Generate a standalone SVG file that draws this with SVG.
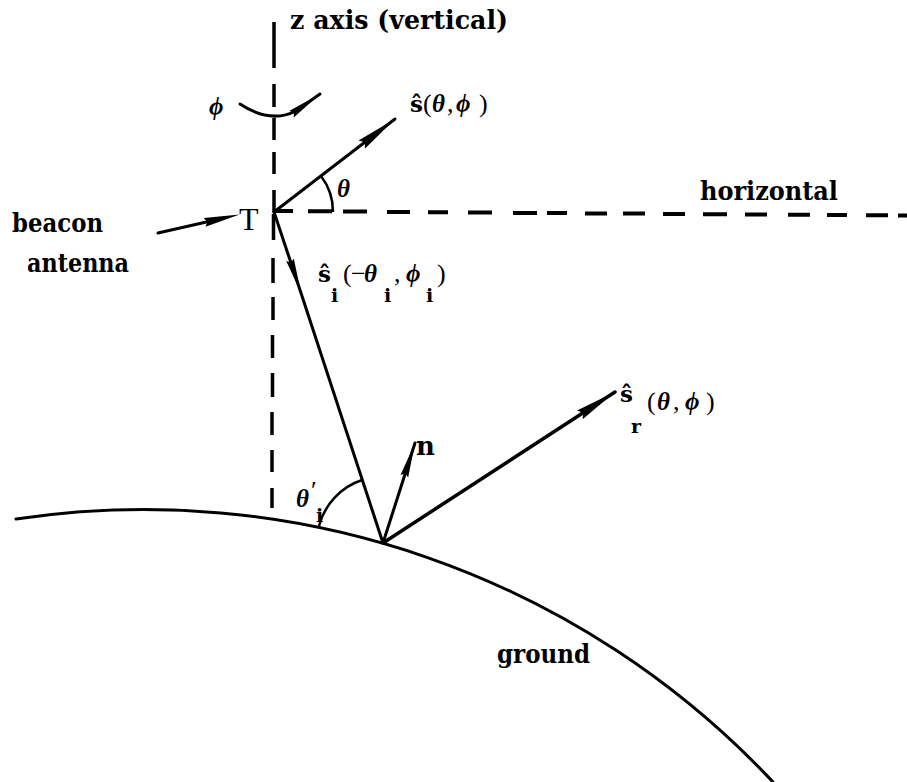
<svg xmlns="http://www.w3.org/2000/svg" width="907" height="782" viewBox="0 0 907 782">
<style>
  .bg { fill: #ffffff; }
  .ln { fill: none; stroke: #000; stroke-width: 3; stroke-linecap: round; stroke-linejoin: round; }
  .dash { fill: none; stroke: #000; stroke-width: 4; stroke-linecap: butt; }
  .arc { fill: none; stroke: #000; stroke-width: 2.5; }
  .tw { font-family: "DejaVu Serif", "Liberation Serif", serif; font-weight: bold; font-size: 26px; fill: #000; }
  .mb { font-family: "DejaVu Serif", "Liberation Serif", serif; font-weight: bold; font-size: 23px; fill: #000; }
  .gr { font-family: "Liberation Serif", "DejaVu Serif", serif; font-style: italic; font-weight: bold; font-size: 25px; fill: #000; }
  .pr { font-family: "Liberation Serif", "DejaVu Serif", serif; font-style: normal; font-weight: normal; font-size: 26px; fill: #000; }
  .sub { font-family: "DejaVu Serif", "Liberation Serif", serif; font-style: normal; font-weight: bold; font-size: 19px; fill: #000; }
  .tt { font-family: "Liberation Serif", "DejaVu Serif", serif; font-size: 32px; fill: #000; }
</style>
<defs>
  <marker id="arrL" viewBox="0 0 42 12" refX="42" refY="6" markerWidth="42" markerHeight="12" markerUnits="userSpaceOnUse" orient="auto">
    <path d="M0,0.8 L42,6 L0,11.2 L4,6 Z" fill="#000"/>
  </marker>
  <marker id="arrS" viewBox="0 0 35 9" refX="35" refY="4.5" markerWidth="35" markerHeight="9" markerUnits="userSpaceOnUse" orient="auto">
    <path d="M0,0.5 L35,4.5 L0,8.5 L3,4.5 Z" fill="#000"/>
  </marker>
  <marker id="arrM" viewBox="0 0 36 10" refX="20" refY="5" markerWidth="36" markerHeight="10" markerUnits="userSpaceOnUse" orient="auto">
    <path d="M0,0.5 L36,5 L0,9.5 L3,5 Z" fill="#000"/>
  </marker>
</defs>
<rect class="bg" x="0" y="0" width="907" height="782"/>

<g id="z-axis">
  <path class="dash" style="stroke-width:3.5" d="M274,22 V68 M274,84 V107 M274,118 V140 M274,152 V174 M274,190 V212 M273.5,214 V240 M273,258 V283 M273,297 V320 M272.5,335 V358 M272.5,373 V397 M272,412 V435 M272,450 V472 M272,488 V508"/>
  <text class="tw" x="290" y="29" font-size="24" textLength="218" lengthAdjust="spacingAndGlyphs">z axis (vertical)</text>
</g>

<g id="horizontal">
  <path class="dash" d="M276,211 H293 M308,211.2 H332 M343,211.5 H367 M387,212 H410 M428,212.3 H448 M468,212.6 H492 M513,212.9 H537 M547,213.1 H567 M585,213.4 H607 M623,213.6 H645 M663,213.9 H685 M703,214.2 H727 M745,214.4 H767 M788,214.7 H810 M827,215 H847 M866,215.2 H888 M898,215.4 H907"/>
  <text class="tw" x="700" y="200" textLength="138" lengthAdjust="spacingAndGlyphs">horizontal</text>
</g>

<g id="ground">
  <path class="ln" d="M16,519 A863,863 0 0,1 773,782"/>
  <text class="tw" x="497" y="663" textLength="93" lengthAdjust="spacingAndGlyphs">ground</text>
</g>

<g id="beacon-antenna">
  <text class="tw" x="12" y="232" textLength="91" lengthAdjust="spacingAndGlyphs">beacon</text>
  <text class="tw" x="27" y="272" textLength="102" lengthAdjust="spacingAndGlyphs">antenna</text>
</g>

<g id="T">
  <text class="tt" x="239" y="230">T</text>
</g>

<g id="connectors">
  <path class="ln" d="M158,233 L224,218" marker-end="url(#arrM)"/>
  <path class="ln" d="M274,212 L395,119" marker-end="url(#arrL)"/>
  <path class="ln" d="M274,212 L301,293 L383,543" marker-mid="url(#arrS)"/>
  <path class="ln" style="stroke-width:3.5" d="M383,543 L615,392" marker-end="url(#arrL)"/>
  <path class="ln" d="M383,543 L415,443" marker-end="url(#arrS)"/>
  <path class="ln" d="M240,104 Q270,124 296,111 L320,94" marker-end="url(#arrS)"/>
  <path class="arc" d="M333,212 A59,59 0 0,0 321,176"/>
  <path class="arc" d="M319,526 A66,66 0 0,1 362,480"/>
</g>

<g id="label-phi">
  <text class="gr" x="209" y="115" font-size="28">ϕ</text>
</g>

<g id="label-theta">
  <text class="gr" x="337" y="197" font-size="22">θ</text>
</g>

<g id="label-s">
  <text class="mb" y="112"><tspan x="410">ŝ</tspan><tspan class="pr" x="423">(</tspan><tspan class="gr" x="432">θ</tspan><tspan class="pr" x="447">,</tspan><tspan class="gr" x="456">ϕ</tspan><tspan class="pr" x="479">)</tspan></text>
</g>

<g id="label-si">
  <text class="mb" y="282"><tspan x="318">ŝ</tspan><tspan class="sub" x="331" y="302">i</tspan><tspan class="pr" x="343" y="282">(</tspan><tspan class="pr" x="351" y="282">−</tspan><tspan class="gr" x="364" y="282">θ</tspan><tspan class="sub" x="384" y="302">i</tspan><tspan class="pr" x="394" y="282">,</tspan><tspan class="gr" x="406" y="282">ϕ</tspan><tspan class="sub" x="426" y="302">i</tspan><tspan class="pr" x="437" y="282">)</tspan></text>
</g>

<g id="label-sr">
  <text class="mb" y="402"><tspan x="620">ŝ</tspan><tspan class="sub" x="631" y="433">r</tspan><tspan class="pr" x="647" y="410">(</tspan><tspan class="gr" x="657" y="410">θ</tspan><tspan class="pr" x="673" y="410">,</tspan><tspan class="gr" x="685" y="410">ϕ</tspan><tspan class="pr" x="706" y="410">)</tspan></text>
</g>

<g id="label-n">
  <text class="tw" x="416" y="455">n</text>
</g>

<g id="label-theta-i">
  <text class="gr" x="296" y="507" font-size="22">θ<tspan class="pr" x="311" y="499" font-size="20">′</tspan><tspan class="sub" x="316" y="522">i</tspan></text>
</g>
</svg>
